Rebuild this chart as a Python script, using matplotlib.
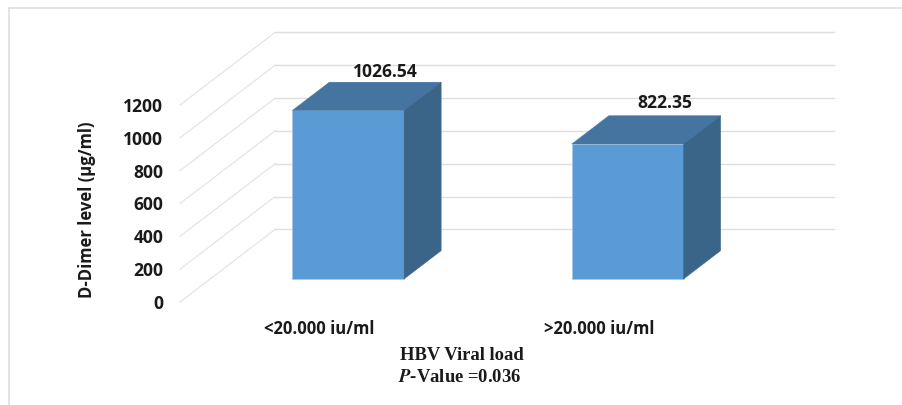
import matplotlib
matplotlib.use("Agg")
import matplotlib.pyplot as plt
from matplotlib.lines import Line2D
from matplotlib.patches import Polygon

categories = ["<20.000 iu/ml", ">20.000 iu/ml"]
values = [1026.54, 822.35]
value_labels = ["1026.54", "822.35"]
y_ticks = [0, 200, 400, 600, 800, 1000, 1200]

W, H = 903, 405
FRONT = "#5B9BD5"
TOP = "#44749F"
SIDE = "#3A6488"
GRID = "#DEDEDE"
FONT = "Open Sans"


def depth(d):
    """Сдвиг в данных для глубины d (0 - передний край, 1 - задняя стенка)"""
    return d * 0.34, d * 442


def draw_walls(ax):
    back_x, back_y = depth(1)
    for v in y_ticks:
        # боковая стенка и задняя стенка
        ax.plot([-0.5, -0.5 + back_x], [v, v + back_y], color="#E4E4E4", lw=0.9, clip_on=False, zorder=1)
        ax.plot([-0.5 + back_x, 1.5 + back_x], [v + back_y, v + back_y], color=GRID, lw=1.0, clip_on=False, zorder=1)


def draw_bar(ax, x, value, label, label_pad):
    width = 0.4
    x0, y0 = depth(0.317)
    x0 -= 0.006
    dx, dy = depth(0.39)
    left = x - width / 2 + x0
    right = x + width / 2 + x0
    bottom = y0
    top = value + y0

    ax.add_patch(Polygon([(left, bottom), (right, bottom), (right, top), (left, top)],
                         fc=FRONT, ec="#A9C9E8", lw=0.5, clip_on=False, zorder=3))
    ax.add_patch(Polygon([(left, top), (right, top), (right + dx, top + dy), (left + dx, top + dy)],
                         fc=TOP, ec=TOP, lw=0.3, clip_on=False, zorder=3))
    ax.add_patch(Polygon([(right, bottom), (right + dx, bottom + dy), (right + dx, top + dy), (right, top)],
                         fc=SIDE, ec=SIDE, lw=0.3, clip_on=False, zorder=3))
    ax.annotate(label, (x + x0 + dx, top + dy), xytext=(0, label_pad), textcoords="offset points",
                ha="center", va="bottom", fontsize=12.6, fontweight="bold", family=FONT,
                color="#1A1A1A", annotation_clip=False, zorder=4)


def main():
    fig = plt.figure(figsize=(W / 100, H / 100), dpi=100, facecolor="white")
    ax = fig.add_axes([180 / W, 1 - 302 / H, 559 / W, 197 / H])
    ax.set_xlim(-0.5, 1.5)
    ax.set_ylim(0, 1200)

    draw_walls(ax)
    for x, (value, label, pad) in enumerate(zip(values, value_labels, [1, 3])):
        draw_bar(ax, x, value, label, pad)

    for side in ax.spines.values():
        side.set_visible(False)
    ax.patch.set_visible(False)
    ax.set_yticks(y_ticks)
    ax.set_xticks(range(len(categories)))
    ax.set_xticklabels(categories, fontsize=12, fontweight="bold", family=FONT, color="#1A1A1A")
    ax.set_yticklabels([str(v) for v in y_ticks], fontsize=12.6, fontweight="bold", family=FONT, color="#1A1A1A")
    ax.tick_params(axis="y", length=0, pad=12)
    ax.tick_params(axis="x", length=0, pad=13)

    fig.text(87 / W, 1 - 210 / H, "D-Dimer level (µg/ml)", rotation=90, ha="center", va="center",
             fontsize=12, fontweight="bold", family=FONT, color="#1A1A1A")
    fig.text(462 / W, 1 - 355 / H, "HBV Viral load", ha="center", va="center", fontsize=13.4,
             fontweight="bold", family="Liberation Serif", color="#1A1A1A")
    fig.text(460 / W, 1 - 377 / H, r"$\bfit{P}$-Value =0.036", ha="center", va="center", fontsize=13.4,
             fontweight="bold", family="Liberation Serif", color="#1A1A1A",
             math_fontfamily="stix")

    # рамка области диаграммы: видны только верх и левый край
    fig.add_artist(Line2D([9.5 / W, 1], [1 - 7.5 / H, 1 - 7.5 / H], color="#DCDCDC", lw=1.1))
    fig.add_artist(Line2D([9.5 / W, 9.5 / W], [0, 1 - 7.5 / H], color="#DCDCDC", lw=1.1))

    fig.savefig("out.png", dpi=100)


if __name__ == '__main__':
    main()
